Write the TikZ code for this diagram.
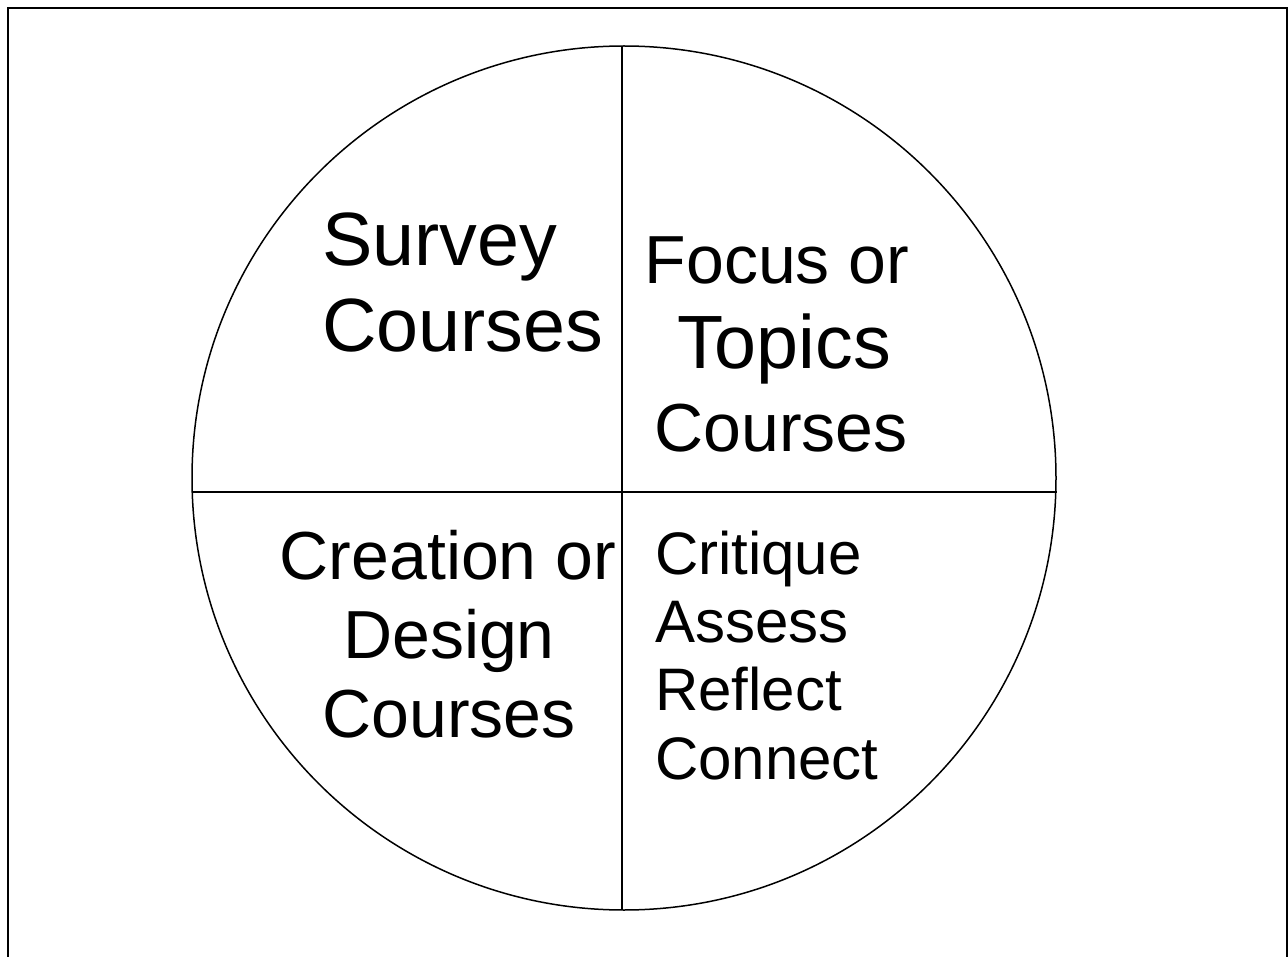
\documentclass[tikz,border=0pt]{standalone}
\usepackage{fontspec}
\setmainfont{Liberation Sans}
\usepackage{tikz}

\begin{document}
\begin{tikzpicture}[x=1pt, y=-1pt, line width=1.3pt]
			\tikzstyle{every node} = [inner sep=0pt, outer sep=0pt]
			\tikzstyle{big} = [font = \fontsize{75.5}{80}\selectfont]
			\tikzstyle{mid} = [font = \fontsize{68}{80}\selectfont]
			\tikzstyle{small} = [font = \fontsize{60}{70}\selectfont]
				\useasboundingbox (0,0) rectangle (1288,957);
				% open frame, no bottom edge
				\path[draw, line width=2pt] (8,957)--
					(8,8)--
					(1287,8)--
					(1287,957);
				% the wheel and its quarters
				\coordinate (hub) at (624,478);
				\path[draw, line width=1.5pt] (hub) circle (432);
				\coordinate (top) at (622,46);
				\coordinate (bottom) at (622,909);
				\coordinate (left) at (192,492);
				\coordinate (right) at (1057,492);
				\path[draw] (top)--(bottom);
				\path[draw] (left)--(right);
				% upper left
				\node[big, anchor=base west] (survey) at (322,266) {Survey};
				\node[big, anchor=base west] (surveyc) at (322,352) {Courses};
				% upper right
				\node[mid, anchor=base] (focus) at (777,284) {Focus or};
				\node[big, anchor=base] (topics) at (784,369) {Topics};
				\node[mid, anchor=base] (topicsc) at (781,451) {Courses};
				% lower left
				\node[mid, anchor=base] (creation) at (448,579) {Creation or};
				\node[mid, anchor=base] (design) at (449,658) {Design};
				\node[mid, anchor=base] (designc) at (449,737) {Courses};
				% lower right
				\node[small, anchor=base west] (critique) at (655,574) {Critique};
				\node[small, anchor=base west] (assess) at (655,642) {Assess};
				\node[small, anchor=base west] (reflect) at (655,710) {Reflect};
				\node[small, anchor=base west] (connect) at (655,779) {Connect};
			\end{tikzpicture}
\end{document}
